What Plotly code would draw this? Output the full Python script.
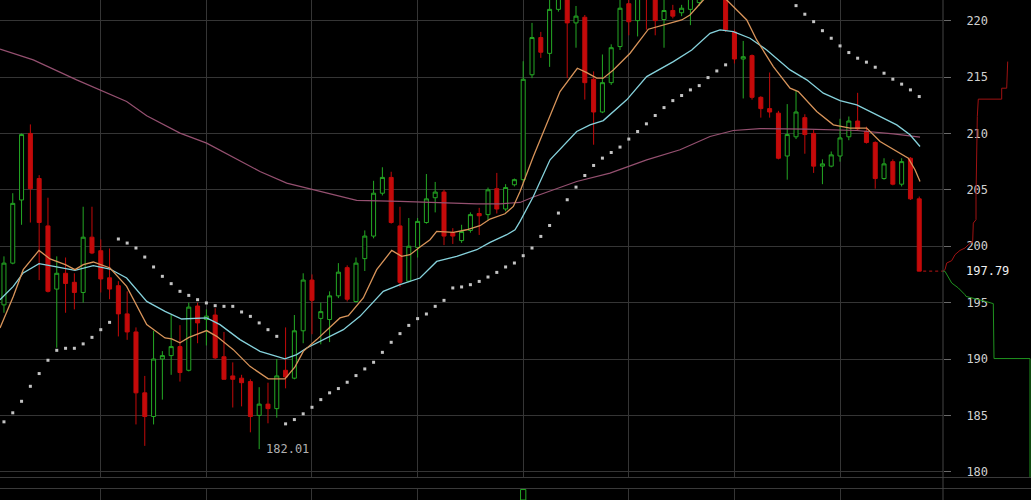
import plotly.graph_objects as go

# ---------------- data ----------------
opens = [194.8, 198.5, 204.1, 210.0, 206.0, 201.8, 196.2, 197.6, 196.8, 195.9,
         200.8, 199.6, 197.2, 196.5, 194.0, 192.4, 187.0, 184.9, 190.0, 190.3,
         191.1, 189.0, 194.7, 193.5, 193.9, 190.2, 188.5, 188.3, 188.0, 185.0,
         186.0, 185.6, 189.0, 188.3, 192.5, 197.0, 193.6, 193.5, 195.6, 198.1,
         195.1, 198.9, 200.9, 204.7, 206.1, 201.8, 196.9, 199.9, 202.1, 204.3,
         204.8, 201.2, 200.5, 201.4, 202.9, 202.8, 205.1, 203.3, 205.45, 205.9,
         215.2, 218.5, 217.1, 221.0, 223.0, 219.8, 220.3, 214.8, 211.9, 214.5,
         217.7, 221.5, 220.0, 222.8, 222.6, 220.1, 220.9, 220.7, 221.0, 221.6,
         222.2, 223.5, 222.6, 219.0, 216.6, 216.9, 213.2, 212.2, 211.8, 208.0,
         209.7, 211.4, 210.0, 207.1, 207.1, 208.0, 209.7, 211.1, 210.2, 209.2,
         206.0, 207.5, 205.5, 207.8, 204.2]
highs = [199.1, 204.7, 210.0, 210.8, 206.3, 204.3, 199.1, 199.0, 197.6, 203.5,
         203.5, 200.6, 199.8, 196.9, 196.0, 192.8, 188.5, 192.5, 190.7, 193.9,
         193.0, 195.0, 195.0, 194.4, 194.5, 192.4, 189.7, 188.6, 188.2, 187.5,
         187.9, 190.0, 192.8, 193.9, 197.6, 197.5, 195.0, 196.0, 198.5, 198.3,
         199.0, 201.4, 205.8, 207.0, 206.6, 203.5, 202.5, 202.5, 206.4, 205.7,
         205.0, 201.6, 201.9, 203.0, 203.4, 205.2, 206.5, 205.5, 206.0, 216.4,
         219.8, 219.0, 222.2, 223.2, 223.6, 221.3, 220.5, 215.5, 217.0, 217.9,
         222.2, 222.0, 222.8, 223.2, 223.0, 222.0, 221.4, 221.4, 222.5, 222.4,
         224.0, 224.3, 223.0, 219.2, 218.2, 217.0, 213.3, 215.4, 212.0, 212.6,
         213.8, 211.7, 210.3, 207.7, 208.4, 211.3, 211.5, 213.6, 210.6, 209.3,
         207.8, 207.7, 207.8, 207.9, 204.4]
lows = [194.1, 198.4, 201.9, 202.1, 197.0, 195.9, 191.0, 194.1, 194.4, 195.0,
        199.3, 195.9, 195.3, 192.0, 191.7, 184.2, 182.3, 184.2, 186.4, 188.6,
        188.0, 188.9, 191.4, 191.2, 190.0, 188.2, 185.7, 185.8, 183.5, 182.01,
        184.3, 184.8, 187.4, 188.2, 191.4, 192.2, 191.3, 191.5, 195.4, 195.1,
        195.0, 197.8, 200.7, 204.5, 202.0, 196.4, 196.8, 199.0, 202.0, 203.0,
        200.1, 200.2, 200.3, 201.2, 201.0, 202.3, 202.9, 203.1, 205.3, 205.6,
        214.9, 216.7, 215.9, 220.8, 214.9, 217.6, 213.0, 209.0, 211.8, 214.3,
        217.4, 218.7, 218.6, 219.2, 218.7, 217.6, 220.2, 220.4, 219.6, 221.3,
        221.9, 222.5, 219.0, 216.2, 213.1, 213.0, 211.4, 211.4, 207.7, 205.9,
        209.5, 208.2, 206.5, 205.5, 207.0, 207.5, 209.4, 210.3, 209.1, 205.1,
        205.9, 205.4, 205.3, 204.1, 197.79]
closes = [198.5, 203.8, 209.9, 205.1, 202.1, 196.0, 197.6, 196.7, 195.9, 200.8,
          199.4, 197.1, 196.2, 194.0, 192.4, 187.0, 184.9, 190.0, 190.3, 191.1,
          188.8, 194.6, 193.2, 193.8, 190.1, 188.2, 188.2, 187.9, 184.9, 186.0,
          185.6, 188.5, 188.4, 192.5, 197.0, 195.2, 194.2, 195.6, 197.7, 195.3,
          198.5, 200.9, 204.7, 206.1, 202.1, 196.8, 200.0, 202.2, 204.2, 204.8,
          200.9, 200.9, 201.3, 202.8, 202.7, 205.0, 203.3, 205.2, 205.9, 214.8,
          218.5, 217.2, 221.0, 222.6, 219.8, 220.4, 214.5, 211.9, 214.5, 217.6,
          221.1, 219.9, 222.3, 221.9, 220.0, 220.9, 220.4, 221.1, 222.1, 222.0,
          223.5, 223.0, 219.2, 216.6, 216.8, 213.2, 212.2, 211.9, 207.8, 209.9,
          211.9, 209.9, 207.1, 207.3, 208.1, 209.6, 211.1, 210.4, 209.2, 206.0,
          207.3, 205.5, 207.5, 204.2, 197.79]

# fast moving average (orange)
ma_fast_idx = [-0.45, 1.06, 2.19, 3.98, 5.23, 6.97, 8.07, 9.01, 10.15, 12.05,
               13.94, 16.22, 18.3, 19.06, 20.0, 21.02, 23.03, 24.17, 26.06, 27.95,
               30.03, 31.93, 33.07, 34.01, 35.53, 38.18, 39.13, 40.83, 42.35, 44.06,
               45.19, 46.14, 47.27, 48.41, 49.17, 51.06, 52.58, 54.09, 55.23, 56.93,
               57.88, 58.64, 60.15, 61.67, 63.18, 65.15, 66.22, 67.35, 68.1, 69.24,
               71.14, 73.22, 74.92, 77.01, 77.95, 79.47, 80.8, 82.13, 83.64, 84.4,
               85.53, 87.42, 89.32, 90.26, 92.35, 94.24, 96.14, 98.03, 99.55, 101.44,
               102.76, 103.52, 104.09]
ma_fast_val = [192.75, 195.55, 197.92, 199.63, 198.87, 198.36, 197.92, 198.36, 198.6, 198.07,
               196.44, 193.05, 191.87, 191.78, 191.43, 191.92, 192.52, 192.01, 190.83, 189.35,
               188.24, 188.24, 189.3, 190.68, 191.72, 193.64, 193.84, 195.41, 197.92, 199.63,
               199.1, 199.25, 199.93, 200.58, 201.31, 201.22, 201.46, 201.82, 202.41, 202.88,
               203.53, 204.85, 207.95, 210.91, 213.71, 215.78, 215.39, 214.9, 214.9, 215.63,
               217.11, 219.24, 219.62, 220.06, 220.5, 221.83, 222.6, 221.83, 220.66, 220.06,
               218.29, 215.93, 214.01, 213.71, 211.94, 210.76, 210.47, 210.47, 209.28, 208.4,
               207.81, 206.78, 205.74]

# medium moving average (cyan)
ma_mid_idx = [-0.45, 1.06, 2.19, 3.98, 5.99, 8.07, 10.15, 12.05, 13.94, 16.22,
              18.3, 20.19, 23.03, 24.55, 26.82, 29.09, 31.93, 33.26, 34.4, 36.3,
              38.56, 40.45, 43.1, 45.0, 47.27, 49.17, 51.44, 53.72, 55.23, 57.13,
              58.07, 58.64, 60.15, 62.05, 65.08, 66.59, 68.1, 70.76, 73.03, 76.06,
              78.15, 80.23, 81.36, 82.88, 84.77, 86.67, 89.32, 91.22, 93.1, 95.0,
              96.9, 98.78, 101.44, 102.95, 104.09]
ma_mid_val = [195.26, 196.44, 197.63, 198.45, 198.16, 197.86, 198.27, 197.98, 197.18, 195.11,
              194.22, 193.55, 193.64, 193.05, 191.72, 190.68, 190.01, 190.39, 190.98, 191.75,
              192.6, 193.78, 196.0, 196.59, 197.18, 198.65, 199.1, 199.69, 200.34, 201.02,
              201.46, 202.2, 204.41, 207.66, 210.17, 210.76, 211.14, 212.98, 215.04, 216.37,
              217.4, 218.88, 219.18, 219.03, 218.44, 217.4, 215.63, 214.75, 213.57, 212.91,
              212.53, 211.8, 210.76, 209.88, 208.84]

# slow moving average (mauve)
ma_slow_idx = [-0.45, 3.33, 8.26, 13.94, 16.22, 20.0, 23.03, 29.09, 32.13, 35.15,
               40.08, 45.0, 49.92, 53.72, 56.36, 58.64, 60.15, 65.08, 68.86, 73.03,
               76.82, 80.23, 82.88, 85.91, 91.22, 96.9, 101.06, 104.09]
ma_slow_val = [217.47, 216.52, 214.75, 212.83, 211.56, 210.03, 209.14, 206.63, 205.6, 205.0,
               204.06, 203.97, 203.83, 203.76, 203.76, 203.88, 204.36, 205.74, 206.48, 207.66,
               208.55, 209.73, 210.26, 210.43, 210.38, 210.26, 209.96, 209.67]

# parabolic SAR (one dot per candle)
sar_val = [184.43, 185.23, 186.25, 187.58, 188.71, 189.89, 190.77, 190.95, 190.95, 191.34,
           191.92, 192.6, 193.25, 200.64, 200.28, 199.84, 199.04, 198.16, 197.33, 196.68,
           196.0, 195.64, 195.26, 194.97, 194.73, 194.67, 194.67, 194.17, 193.78, 193.2,
           192.6, 192.01, 184.25, 184.63, 185.14, 185.72, 186.4, 187.0, 187.38, 187.94,
           188.53, 189.12, 189.71, 190.59, 191.48, 192.25, 192.98, 193.58, 193.99, 194.67,
           195.2, 196.3, 196.39, 196.59, 196.88, 197.27, 197.68, 198.16, 198.51, 199.16,
           199.84, 200.87, 201.84, 202.94, 204.12, 205.24, 206.27, 207.16, 207.81, 208.31,
           208.79, 209.5, 210.17, 210.85, 211.59, 212.29, 212.91, 213.36, 213.86, 214.24,
           214.95, 215.54, 216.08, 223.8, 223.6, 223.4, 223.2, 222.9, 222.6, 222.2,
           221.33, 220.57, 219.91, 219.11, 218.44, 217.76, 217.17, 216.67, 216.32, 215.87,
           215.34, 214.81, 214.37, 213.86, 213.27]

# order book depth (right side)
ask_price = [197.79, 197.92, 198.51, 198.72, 199.25, 199.63, 199.84, 200.13, 200.42,
             202.05, 202.35, 204.41, 211.5, 213.04, 213.04, 214.01, 214.01, 216.37]
ask_depth = [0, 2, 3.7, 8.7, 12, 17, 22, 25.3, 29.7, 30.3, 33, 33, 34.3, 35.3,
             58.7, 58.7, 63.7, 64.7]
bid_price = [197.79, 197.77, 196.74, 196.3, 195.7, 195.55, 195.08, 194.91,
             190.04, 190.04, 179.4]
bid_depth = [0, 2, 8.7, 15.3, 22, 23, 43.7, 50.3, 51, 87, 87]

# volume pane (only one bar reaches the visible strip)
volume_idx = [59]
volume_val = [0.95]

y_ticks = [180, 185, 190, 195, 200, 205, 210, 215, 220]
grid_idx = [11, 23, 35, 47, 59, 71, 83, 95]

# ---------------- style ----------------
BG = '#000000'
GRID = '#353535'
GREEN = '#24a824'
RED = '#c40a0a'
XD = 943 / 1031
X_RANGE = [-0.45, 106.7]
Y_RANGE = [179.45, 221.83]
MAIN_BOTTOM = 0.044
MONO = 'DejaVu Sans Mono'

idx = list(range(len(closes)))

fig = go.Figure()

fig.add_trace(go.Candlestick(
    x=idx, open=opens, high=highs, low=lows, close=closes,
    increasing=dict(line=dict(color=GREEN, width=1), fillcolor=BG),
    decreasing=dict(line=dict(color=RED, width=1), fillcolor=RED),
    whiskerwidth=0, hoverinfo='skip', xaxis='x', yaxis='y'))

fig.add_trace(go.Scatter(x=ma_slow_idx, y=ma_slow_val, mode='lines',
                         line=dict(color='#955070', width=1.2), hoverinfo='skip'))
fig.add_trace(go.Scatter(x=ma_mid_idx, y=ma_mid_val, mode='lines',
                         line=dict(color='#86d2dc', width=1.3), hoverinfo='skip'))
fig.add_trace(go.Scatter(x=ma_fast_idx, y=ma_fast_val, mode='lines',
                         line=dict(color='#d8945a', width=1.3), hoverinfo='skip'))
fig.add_trace(go.Scatter(x=list(range(len(sar_val))), y=sar_val, mode='markers',
                         marker=dict(symbol='square', size=3, color='#c4c4c4',
                                     line=dict(width=0)), hoverinfo='skip'))

# depth lines
fig.add_trace(go.Scatter(x=ask_depth, y=ask_price, mode='lines', xaxis='x2', yaxis='y4',
                         line=dict(color='#a01212', width=1), hoverinfo='skip'))
fig.add_trace(go.Scatter(x=bid_depth, y=bid_price, mode='lines', xaxis='x2', yaxis='y4',
                         line=dict(color='#1f931f', width=1), hoverinfo='skip'))

# volume
fig.add_trace(go.Bar(x=volume_idx, y=volume_val, xaxis='x3', yaxis='y3', width=0.6,
                     marker=dict(color=BG, line=dict(color=GREEN, width=1)),
                     hoverinfo='skip'))

low_i = lows.index(min(lows))
last = closes[-1]

fig.update_layout(
    width=1031, height=500,
    margin=dict(l=0, r=0, t=0, b=0),
    paper_bgcolor=BG, plot_bgcolor=BG,
    showlegend=False, hovermode=False, boxgap=0.35,
    xaxis=dict(domain=[0, XD], range=X_RANGE, anchor='y',
               tickvals=grid_idx, showticklabels=False, ticks='',
               showgrid=True, gridcolor=GRID, gridwidth=1,
               zeroline=False, showline=False, rangeslider=dict(visible=False),
               fixedrange=True),
    yaxis=dict(domain=[MAIN_BOTTOM, 1], range=Y_RANGE, anchor='x', side='right',
               tickvals=y_ticks, ticks='outside', ticklen=7, tickcolor='#6a6a6a',
               tickwidth=1, showgrid=True, gridcolor=GRID, gridwidth=1,
               zeroline=False, showline=False, automargin=False,
               ticklabelstandoff=13,
               tickfont=dict(family=MONO, size=12, color='#d0d0d0'),
               fixedrange=True),
    xaxis2=dict(domain=[XD, 1], range=[0, 88], anchor='y4', visible=False,
                fixedrange=True),
    yaxis4=dict(domain=[MAIN_BOTTOM, 1], range=Y_RANGE, anchor='x2', visible=False,
                fixedrange=True),
    xaxis3=dict(domain=[0, XD], range=X_RANGE, anchor='y3',
                tickvals=grid_idx, showticklabels=False, ticks='',
                showgrid=True, gridcolor=GRID, zeroline=False, showline=False,
                fixedrange=True),
    yaxis3=dict(domain=[0, 0.022], range=[0, 1], anchor='x3', visible=False,
                fixedrange=True),
    shapes=[
        # last price dotted line
        dict(type='line', xref='x', yref='y', x0=len(closes) - 1 + 0.45, x1=X_RANGE[1],
             y0=last, y1=last, line=dict(color='#b81616', width=1, dash='dot')),
        # pane separators
        dict(type='line', xref='paper', yref='paper', x0=0, x1=1,
             y0=0.045, y1=0.045, line=dict(color='#3a3a3a', width=1)),
        dict(type='line', xref='paper', yref='paper', x0=0, x1=1,
             y0=0.023, y1=0.023, line=dict(color='#3a3a3a', width=1)),
        # price axis line
        dict(type='line', xref='paper', yref='paper', x0=XD, x1=XD,
             y0=0, y1=1, line=dict(color='#444444', width=1)),
    ],
    annotations=[
        dict(x=low_i, y=lows[low_i], xref='x', yref='y', text=f'{lows[low_i]:.2f}',
             showarrow=False, xanchor='left', yanchor='middle', xshift=5,
             font=dict(family=MONO, size=12, color='#b0b0b0')),
        dict(x=964 / 1031, y=last, xref='paper', yref='y', text=f'{last:.2f}',
             showarrow=False, xanchor='left', yanchor='middle',
             font=dict(family=MONO, size=12, color='#f0f0f0')),
    ],
)

fig.write_html(
    'out.html',
    config={'displayModeBar': False, 'staticPlot': True},
    post_script="document.body.style.margin='0';document.body.style.padding='0';"
                "document.body.style.background='#000';"
                "document.documentElement.style.overflow='hidden';",
)
